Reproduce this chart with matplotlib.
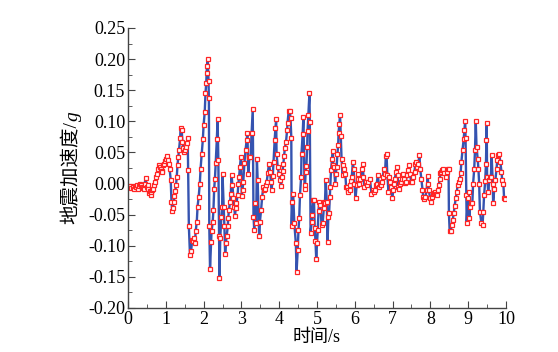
import matplotlib
matplotlib.use("Agg")
import matplotlib.pyplot as plt
from matplotlib.ticker import MultipleLocator, FormatStrFormatter

# time (s) and ground acceleration (g)
time_s = [
    0.00, 0.03, 0.06, 0.09, 0.12, 0.15, 0.18, 0.21, 0.24, 0.27,
    0.30, 0.32, 0.34, 0.36, 0.39, 0.41, 0.44, 0.47, 0.49, 0.52,
    0.54, 0.56, 0.58, 0.60, 0.62, 0.64, 0.67, 0.69, 0.71, 0.74,
    0.76, 0.79, 0.82, 0.84, 0.86, 0.89, 0.91, 0.93, 0.96, 0.98,
    1.00, 1.02, 1.05, 1.08, 1.10, 1.13, 1.15, 1.17, 1.19, 1.21,
    1.23, 1.25, 1.27, 1.29, 1.31, 1.33, 1.35, 1.38, 1.39, 1.42,
    1.44, 1.46, 1.49, 1.52, 1.54, 1.56, 1.58, 1.59, 1.61, 1.64,
    1.67, 1.70, 1.72, 1.75, 1.77, 1.79, 1.82, 1.84, 1.87, 1.90,
    1.92, 1.95, 1.98, 2.00, 2.03, 2.05, 2.07, 2.08, 2.09, 2.11,
    2.13, 2.14, 2.15, 2.17, 2.20, 2.21, 2.24, 2.26, 2.28, 2.30,
    2.32, 2.35, 2.37, 2.39, 2.41, 2.42, 2.44, 2.47, 2.49, 2.50,
    2.53, 2.55, 2.57, 2.59, 2.61, 2.64, 2.65, 2.67, 2.70, 2.72,
    2.74, 2.76, 2.79, 2.81, 2.83, 2.85, 2.87, 2.90, 2.92, 2.94,
    2.96, 2.99, 3.01, 3.03, 3.05, 3.08, 3.11, 3.14, 3.16, 3.18,
    3.21, 3.24, 3.27, 3.30, 3.32, 3.34, 3.36, 3.39, 3.41, 3.43,
    3.47, 3.49, 3.52, 3.55, 3.58, 3.60, 3.62, 3.65, 3.67, 3.70,
    3.73, 3.76, 3.78, 3.80, 3.83, 3.85, 3.88, 3.90, 3.92, 3.93,
    3.96, 3.99, 4.02, 4.05, 4.07, 4.09, 4.11, 4.13, 4.15, 4.18,
    4.21, 4.22, 4.25, 4.28, 4.30, 4.32, 4.33, 4.35, 4.37, 4.40,
    4.44, 4.46, 4.49, 4.51, 4.53, 4.55, 4.58, 4.59, 4.62, 4.64,
    4.67, 4.68, 4.70, 4.72, 4.74, 4.75, 4.77, 4.80, 4.81, 4.83,
    4.86, 4.87, 4.90, 4.92, 4.94, 4.96, 4.98, 5.00, 5.02, 5.04,
    5.06, 5.09, 5.12, 5.15, 5.18, 5.19, 5.21, 5.23, 5.26, 5.28,
    5.30, 5.32, 5.34, 5.35, 5.37, 5.40, 5.42, 5.43, 5.45, 5.48,
    5.50, 5.52, 5.54, 5.56, 5.57, 5.59, 5.61, 5.63, 5.65, 5.68,
    5.70, 5.72, 5.75, 5.77, 5.79, 5.81, 5.83, 5.86, 5.88, 5.90,
    5.92, 5.95, 5.97, 5.99, 6.02, 6.05, 6.08, 6.09, 6.12, 6.15,
    6.18, 6.21, 6.23, 6.25, 6.29, 6.32, 6.36, 6.40, 6.44, 6.47,
    6.51, 6.53, 6.56, 6.58, 6.61, 6.64, 6.67, 6.69, 6.72, 6.74,
    6.77, 6.80, 6.82, 6.84, 6.86, 6.89, 6.91, 6.94, 6.96, 6.99,
    7.02, 7.05, 7.06, 7.09, 7.11, 7.13, 7.15, 7.18, 7.20, 7.23,
    7.26, 7.28, 7.31, 7.33, 7.35, 7.38, 7.41, 7.43, 7.46, 7.49,
    7.52, 7.55, 7.58, 7.60, 7.63, 7.65, 7.68, 7.71, 7.73, 7.76,
    7.79, 7.81, 7.84, 7.87, 7.90, 7.93, 7.94, 7.96, 7.99, 8.02,
    8.04, 8.06, 8.09, 8.12, 8.14, 8.17, 8.20, 8.22, 8.25, 8.26,
    8.28, 8.32, 8.34, 8.37, 8.40, 8.43, 8.46, 8.48, 8.49, 8.51,
    8.54, 8.56, 8.59, 8.62, 8.64, 8.67, 8.70, 8.72, 8.75, 8.78,
    8.80, 8.82, 8.85, 8.88, 8.90, 8.92, 8.93, 8.95, 8.96, 8.99,
    9.01, 9.03, 9.05, 9.08, 9.11, 9.13, 9.16, 9.18, 9.20, 9.22,
    9.25, 9.27, 9.29, 9.31, 9.35, 9.38, 9.40, 9.42, 9.45, 9.47,
    9.48, 9.49, 9.50, 9.53, 9.56, 9.58, 9.60, 9.62, 9.65, 9.66,
    9.69, 9.72, 9.75, 9.77, 9.80, 9.82, 9.85, 9.88, 9.90, 9.93,
    9.95, 9.98,
]

accel_g = [
    -0.005, -0.006, -0.004, -0.007, -0.005, -0.008, -0.004, -0.006, -0.003, -0.008,
    -0.004, 0.000, -0.003, -0.005, -0.007, -0.009, 0.000, 0.009, -0.005, -0.002,
    -0.008, -0.015, -0.012, -0.018, -0.014, -0.010, -0.008, -0.002, 0.003, 0.010,
    0.016, 0.024, 0.030, 0.027, 0.024, 0.020, 0.019, 0.030, 0.032, 0.036,
    0.040, 0.044, 0.038, 0.032, 0.024, 0.006, -0.030, -0.044, -0.040, -0.030,
    -0.020, -0.012, -0.003, 0.011, 0.030, 0.042, 0.054, 0.073, 0.090, 0.086,
    0.067, 0.057, 0.051, 0.054, 0.059, 0.065, 0.073, 0.021, -0.069, -0.115,
    -0.108, -0.090, -0.092, -0.088, -0.095, -0.077, -0.061, -0.037, -0.021, 0.000,
    0.024, 0.047, 0.071, 0.094, 0.115, 0.145, 0.162, 0.178, 0.189, 0.200,
    0.165, 0.137, -0.068, -0.137, -0.094, -0.077, -0.062, -0.043, -0.008, 0.008,
    0.033, 0.071, 0.104, 0.038, -0.085, -0.152, -0.088, -0.053, -0.037, 0.016,
    -0.037, -0.069, -0.113, -0.096, -0.084, -0.069, -0.056, -0.043, -0.029, -0.016,
    0.014, -0.002, -0.024, -0.037, -0.052, -0.040, -0.032, -0.018, 0.000, 0.011,
    0.027, 0.043, -0.020, -0.010, 0.003, 0.033, 0.054, 0.070, 0.082, 0.015,
    0.042, 0.042, 0.081, 0.120, -0.053, -0.075, -0.032, -0.064, 0.040, 0.006,
    -0.085, -0.061, -0.043, -0.021, -0.005, -0.010, -0.008, -0.002, 0.003, 0.017,
    0.032, 0.019, 0.003, -0.010, 0.012, 0.035, 0.070, 0.089, 0.103, 0.048,
    0.027, 0.016, 0.006, -0.004, 0.011, 0.020, 0.032, 0.045, 0.057, 0.067,
    0.086, 0.097, 0.116, 0.117, 0.105, 0.074, -0.069, -0.029, -0.017, -0.064,
    -0.096, -0.142, -0.106, -0.075, -0.055, -0.018, 0.010, 0.048, 0.079, 0.107,
    -0.002, -0.008, 0.019, 0.028, 0.059, 0.085, 0.110, 0.145, 0.099, -0.079,
    -0.061, -0.051, -0.027, -0.027, -0.071, -0.093, -0.122, -0.096, -0.075, -0.044,
    -0.029, -0.035, -0.067, -0.064, -0.040, -0.029, -0.032, 0.006, -0.030, -0.094,
    -0.053, -0.048, -0.021, -0.006, 0.021, 0.040, 0.053, 0.030, 0.027, 0.000,
    0.016, 0.027, 0.047, 0.062, 0.081, 0.096, 0.110, 0.076, 0.039, 0.014,
    0.030, 0.023, 0.015, -0.005, -0.006, -0.010, -0.013, -0.010, -0.002, 0.004,
    0.011, 0.035, 0.023, 0.000, -0.024, -0.002, 0.008, 0.016, 0.000, 0.008,
    0.024, 0.031, 0.011, -0.005, 0.003, -0.002, 0.003, 0.008, -0.016, -0.010,
    -0.013, -0.010, -0.002, 0.000, 0.014, -0.005, -0.001, -0.003, 0.002, 0.011,
    0.023, 0.016, 0.044, 0.047, 0.014, -0.013, 0.011, 0.003, -0.005, -0.024,
    -0.010, 0.000, 0.008, 0.019, 0.026, 0.014, -0.005, -0.008, 0.000, 0.003,
    0.008, 0.016, 0.008, 0.001, 0.003, 0.014, 0.021, 0.030, 0.016, 0.003,
    0.003, 0.011, 0.019, 0.032, 0.034, 0.027, 0.032, 0.046, 0.024, 0.008,
    -0.010, -0.021, -0.025, -0.021, -0.010, 0.012, 0.000, -0.010, -0.024, -0.029,
    -0.021, -0.017, -0.015, -0.013, -0.016, -0.018, -0.011, -0.002, 0.007, 0.017,
    0.018, 0.022, 0.023, 0.017, 0.011, 0.019, 0.024, 0.024, -0.048, -0.077,
    -0.077, -0.067, -0.059, -0.047, -0.036, -0.024, -0.013, -0.002, 0.003, 0.008,
    0.017, 0.035, 0.054, 0.071, 0.086, 0.101, 0.073, -0.018, -0.063, -0.024,
    -0.013, -0.056, -0.037, -0.032, -0.031, 0.000, 0.024, 0.054, 0.100, 0.059,
    0.040, 0.024, 0.000, -0.045, -0.064, -0.067, -0.045, -0.019, 0.004, 0.032,
    0.070, 0.097, 0.011, -0.013, 0.006, 0.011, 0.010, 0.046, 0.000, -0.032,
    -0.008, 0.006, 0.024, 0.038, 0.046, 0.048, 0.035, 0.019, 0.006, 0.000,
    -0.024, -0.025,
]

plt.rcParams["font.family"] = ["Liberation Serif", "Noto Sans CJK SC"]
plt.rcParams["font.size"] = 10.5

fig = plt.figure(figsize=(5.58, 3.52), dpi=100)
ax = fig.add_axes([0.2294, 0.125, 0.6774, 0.7955])

ax.plot(time_s, accel_g, color="#3553b0", lw=1.7,
        marker="s", ms=3.3, mfc="white", mec="#ff2424", mew=0.9)

ax.set_xlim(0, 10)
ax.set_ylim(-0.20, 0.25)
ax.xaxis.set_major_locator(MultipleLocator(1))
ax.xaxis.set_minor_locator(MultipleLocator(0.5))
ax.yaxis.set_major_locator(MultipleLocator(0.05))
ax.yaxis.set_minor_locator(MultipleLocator(0.025))
ax.yaxis.set_major_formatter(FormatStrFormatter("%.2f"))

for side in ["top", "right"]:
    ax.spines[side].set_visible(False)
for side in ["left", "bottom"]:
    ax.spines[side].set_color("#444444")
    ax.spines[side].set_linewidth(1.0)

ax.tick_params(which="both", direction="in", colors="#444444", labelcolor="black")
ax.tick_params(which="major", length=5, labelsize=13, pad=2)
ax.tick_params(which="minor", length=3)

ax.set_xlabel("时间/s", fontsize=13, labelpad=1)

# y label: CJK part upright, "g" in italic, stacked along the rotated baseline
label_x = 72 / 558
renderer = fig.canvas.get_renderer()
part1 = fig.text(label_x, 0.5, "地震加速度/", rotation=90, fontsize=14,
                 ha="center", va="bottom")
part2 = fig.text(label_x, 0.5, "g", rotation=90, fontsize=14,
                 style="italic", ha="center", va="bottom")
h1 = part1.get_window_extent(renderer).height / fig.bbox.height
h2 = part2.get_window_extent(renderer).height / fig.bbox.height
mid = 0.125 + 0.7955 / 2
start = mid - (h1 + h2) / 2
part1.set_y(start)
part2.set_y(start + h1)
part2.set_x(label_x + 0.002)

fig.savefig("out.png", dpi=100)
